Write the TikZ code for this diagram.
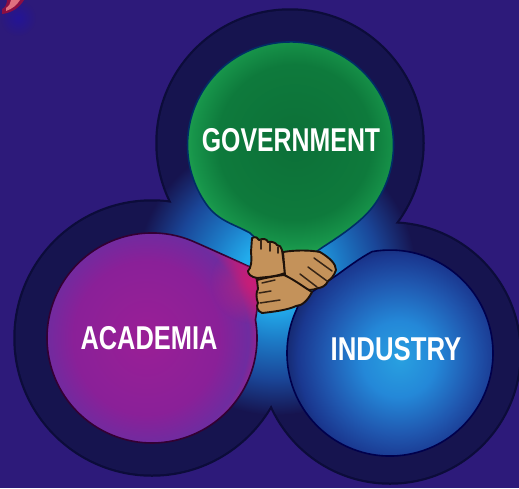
\documentclass[tikz,border=0pt]{standalone}
\usepackage{fontspec}
\usetikzlibrary{fadings}
\setmainfont{Liberation Sans}
\definecolor{bgc}{HTML}{2D1A7A}
\definecolor{ringc}{HTML}{16144F}
\definecolor{ringe}{HTML}{0C0C3A}
\definecolor{skin}{HTML}{C4925A}
\definecolor{inkc}{HTML}{1E120A}
\definecolor{ga}{HTML}{0C7038}\definecolor{gb}{HTML}{0E7A3C}\definecolor{gc}{HTML}{17944A}\definecolor{gd}{HTML}{22A450}
\definecolor{aa}{HTML}{9A1F96}\definecolor{ab}{HTML}{8A2098}\definecolor{ac}{HTML}{6E2CA0}\definecolor{ad}{HTML}{A02288}
\definecolor{ia}{HTML}{28A0E0}\definecolor{ib}{HTML}{2488D8}\definecolor{ic}{HTML}{2058B0}\definecolor{id}{HTML}{1A3890}\definecolor{ie}{HTML}{15286E}
\definecolor{la}{HTML}{22ACEC}\definecolor{lb}{HTML}{1C78C4}\definecolor{lc}{HTML}{1A4698}
\pgfdeclareradialshading{govsh}{\pgfpoint{0bp}{0bp}}{color(0bp)=(ga);color(17bp)=(gb);color(22.5bp)=(gc);color(25bp)=(gd);color(70bp)=(gd)}
\pgfdeclareradialshading{acadsh}{\pgfpoint{0bp}{0bp}}{color(0bp)=(aa);color(16bp)=(ab);color(22.5bp)=(ac);color(25bp)=(ad);color(70bp)=(ad)}
\pgfdeclareradialshading{indsh}{\pgfpoint{1.5bp}{-1.5bp}}{color(0bp)=(ia);color(8.5bp)=(ib);color(17bp)=(ic);color(23bp)=(id);color(26bp)=(ie);color(70bp)=(ie)}
\pgfdeclareradialshading{glowsh}{\pgfpoint{0bp}{0bp}}{color(0bp)=(la);color(6bp)=(la);color(12bp)=(lb);color(18.5bp)=(lc);color(25bp)=(ringc);color(70bp)=(ringc)}
\tikzfading[name=softspot, inner color=transparent!0, outer color=transparent!100]
\tikzset{
  ringfill/.style={fill=ringc,draw=none},
  ringedge/.style={fill=ringe,draw=ringe,line width=1.5pt},
  outlinegov/.style={draw=black!70!green!60!blue,line width=1.6pt,line join=round},
  outlineaca/.style={draw=black!60!violet,line width=1.6pt,line join=round},
  outlineind/.style={draw=black!70!blue,line width=1.6pt,line join=round},
  handp/.style={fill=skin,draw=inkc,line width=1.9pt,line join=round},
  crease/.style={draw=inkc!85!skin,line width=1.5pt,line cap=round},
  lbl/.style={text=white,font=\bfseries\fontsize{33}{33}\selectfont,inner sep=0pt}
}
\begin{document}
\begin{tikzpicture}[x=1pt,y=-1pt]
\useasboundingbox (0,0) rectangle (519,488);
\fill[bgc] (0,0) rectangle (519,488);
% fragment of lettering at the corner
\fill[blue!60!bgc,opacity=.35,path fading=softspot] (18,18) circle (18);
\fill[red!45!bgc] (2,14) .. controls (12,13) and (20,7) .. (24,0) -- (7,0) .. controls (7,4) and (5,8) .. (2,9) -- cycle;
\fill[red!50!white!85!bgc] (6,11) .. controls (12,9) and (17,5) .. (20,0) -- (11,0) .. controls (11,3) and (9,6) .. (6,8) -- cycle;
% dark rings
\fill[ringedge] (290,143) circle (134);
\fill[ringedge] (152,338) circle (138);
\fill[ringedge] (390,353) circle (131);
\fill[ringfill] (290,143) circle (132.5);
\fill[ringfill] (152,338) circle (136.5);
\fill[ringfill] (390,353) circle (129.5);
% glow
\begin{scope}
\clip (290,143) circle (132.5) (152,338) circle (136.5) (390,353) circle (129.5);
\shade[shading=glowsh] (276,275) circle (140);
\end{scope}
% discs
\shade[shading=govsh,outlinegov] (374.9,204) arc (35:-215:103) .. controls (218,221) and (234,224) .. (250,233) -- (270,252) -- (310,256) -- (323,247) .. controls (340,236) and (363,221) .. (374.9,204) -- cycle;
\shade[shading=acadsh,outlineaca] (196.4,242.8) arc (-65:-370:105) -- (260,290) -- (252,268) .. controls (235,260) and (215,251) .. (196.4,242.8) -- cycle;
\begin{scope}
\clip (196.4,242.8) arc (-65:-370:105) -- (260,290) -- (252,268) .. controls (235,260) and (215,251) .. (196.4,242.8) -- cycle;
\fill[magenta!75!red!90!black,opacity=.7,path fading=softspot] (252,282) circle (42);
\end{scope}
\shade[shading=indsh,outlineind] (372.1,251.6) arc (-100:205:103) -- (300,300) -- (337,275) .. controls (348,267) and (360,258) .. (372.1,251.6) -- cycle;
\node[lbl] (gov) at (291,140) {\scalebox{0.754}[1]{GOVERNMENT}};
\node[lbl] (aca) at (149,338) {\scalebox{0.77}[1]{ACADEMIA}};
\node[lbl] (ind) at (396,349) {\scalebox{0.78}[1]{INDUSTRY}};
% hands
\draw[handp] (252,238) .. controls (256,236) and (258,238) .. (259,240) .. controls (263,238) and (267,239) .. (268,242) .. controls (272,241) and (276,243) .. (277,245) .. controls (280,245) and (281,247) .. (282,250) -- (285,273) .. controls (275,277) and (265,277) .. (257,278) .. controls (251,277) and (248,274) .. (248,271) .. controls (251,268) and (252,262) .. (251,252) -- cycle;
\draw[handp] (283,252) .. controls (295,250) and (310,250) .. (320,252) .. controls (330,258) and (336,264) .. (336,270) .. controls (334,276) and (331,279) .. (328,281) .. controls (326,286) and (321,288) .. (318,288) .. controls (312,291) and (306,290) .. (302,288) -- (285,275) -- cycle;
\draw[handp] (257,280) .. controls (265,278) and (275,276) .. (284,275) .. controls (295,280) and (305,288) .. (312,292) .. controls (308,300) and (302,306) .. (296,306) .. controls (288,310) and (272,312) .. (262,313) .. controls (257,311) and (256,306) .. (258,303) .. controls (256,298) and (256,292) .. (258,289) -- cycle;
\draw[crease] (261,240) -- (261,249);
\draw[crease] (270,243) -- (270,251);
\draw[crease] (278,247) -- (278,253);
\draw[crease] (314,258) -- (332,271);
\draw[crease] (308,267) -- (327,281);
\draw[crease] (300,274) -- (317,287);
\draw[crease] (262,283) -- (275,280);
\draw[crease] (259,293) -- (271,291);
\draw[crease] (260,303) -- (280,300);
\end{tikzpicture}
\end{document}
